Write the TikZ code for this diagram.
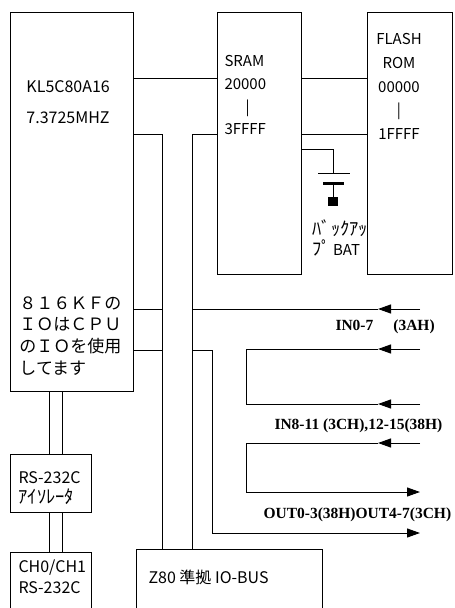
\documentclass[tikz,border=0pt]{standalone}
\usepackage{fontspec}
\setmainfont{Noto Sans CJK JP}
\newfontfamily\portfont{Liberation Serif}
\usetikzlibrary{arrows.meta,positioning}

\begin{document}
\begin{tikzpicture}[
    x=1pt, y=-1pt,
    line width=1pt,
    box/.style={draw, anchor=north west, inner sep=0pt, outer sep=0pt},
    txt/.style={anchor=west, inner sep=0pt, font=\fontsize{16}{22}\selectfont},
    kana/.style={anchor=west, inner sep=0pt, font=\fontsize{18.5}{20}\selectfont},
    portlbl/.style={anchor=west, inner sep=0pt, font=\portfont\bfseries\fontsize{15.5}{18}\selectfont},
    arr/.style={-{Triangle[length=13pt,width=9pt]}}
]
    \useasboundingbox (0,0) rectangle (455,608);

    % boxes
    \node[box, minimum width=123pt, minimum height=379pt] (cpu) at (10,12) {};
    \node[box, minimum width=84pt, minimum height=262pt] (sram) at (217,12) {};
    \node[box, minimum width=85pt, minimum height=262pt] (flash) at (367,12) {};
    \node[box, minimum width=81pt, minimum height=58pt, below right=63pt and 0pt of cpu.south west] (iso) {};
    \node[box, minimum width=81pt, minimum height=70pt, below right=40pt and 0pt of iso.south west] (ch) {};
    \node[box, minimum width=186pt, minimum height=70pt] (z80) at (136,549) {};

    % texts in the boxes
    \node[txt] (cpuname) at (26,87) {KL5C80A16};
    \node[txt] (cpuclk) at (26,118) {7.3725MHZ};
    \node[txt, anchor=north west, align=left, font=\fontsize{17}{21.7}\selectfont] (cpuio) at (19,296) {８１６ＫＦの\\ＩＯはＣＰＵ\\のＩＯを使用\\してます};
    \node[txt, anchor=north west, align=left, font=\fontsize{15}{22.7}\selectfont] (sramtxt) at (224,55) {SRAM\\20000\\\hspace{1.4em}|\\3FFFF};
    \node[txt, anchor=north, align=center, font=\fontsize{15}{23.7}\selectfont] (flashtxt) at (399,33) {FLASH\\ROM\\00000\\|\\1FFFF};
    \node[txt] (isotxt) at (18,478) {RS-232C};
    \node[kana] (isokana) at (18,497) {ｱｲｿﾚｰﾀ};
    \node[txt] (chtxt) at (18,568) {CH0/CH1};
    \node[txt] (chrs) at (18,588) {RS-232C};
    \node[txt] (z80txt) at (148,577) {Z80 準拠 IO-BUS};
    \node[kana] (battxt) at (312,228) {ﾊﾞｯｸｱｯ};
    \node[kana] (batbat) at (312,248) {ﾌﾟ\hspace{2pt}{\fontsize{15}{18}\selectfont BAT}};

    % port labels
    \node[portlbl] (in0lbl) at (335,327) {IN0-7\hspace{20pt}(3AH)};
    \node[portlbl] (in8lbl) at (274,426) {IN8-11 (3CH),12-15(38H)};
    \node[portlbl] (outlbl) at (263,515) {OUT0-3(38H)OUT4-7(3CH)};

    % memory bus
    \coordinate (rowA) at (0,78);
    \coordinate (busL) at (162,134);
    \coordinate (busR) at (192,134);
    \draw (cpu.east |- rowA) -- (sram.west |- rowA);
    \draw (sram.east |- rowA) -- (flash.west |- rowA);
    \draw (sram.east |- busR) -- (flash.west |- busR);
    \draw (cpu.east |- busL) -- (busL) -- (busL |- z80.north);
    \draw (sram.west |- busR) -- (busR) -- (busR |- z80.north);

    % backup battery
    \coordinate (batt) at (333,149);
    \coordinate (plus) at (333,173);
    \coordinate (minus) at (333,183);
    \draw (sram.east |- batt) -- (batt) -- (plus);
    \draw ([xshift=-15pt]plus) -- ([xshift=17pt]plus);
    \draw[line width=3pt] ([xshift=-10pt]minus) -- ([xshift=11pt]minus);
    \draw (minus) -- ++(0,15);
    \fill (328,197) rectangle (338,206);

    % serial
    \foreach \dx in {39,52} {
        \draw ([xshift=\dx pt]cpu.south west) -- ([xshift=\dx pt]iso.north west);
        \draw ([xshift=\dx pt]iso.south west) -- ([xshift=\dx pt]ch.north west);
    }

    % io ports
    \coordinate (in0) at (420,309);
    \coordinate (in8a) at (420,349);
    \coordinate (in8b) at (420,404);
    \coordinate (outa) at (420,443);
    \coordinate (outb) at (420,492);
    \coordinate (outc) at (420,533);
    \coordinate (bend) at (212,350);
    \coordinate (tipx) at (378,0);
    \coordinate (joinx) at (246,0);

    \draw (cpu.east |- in0) -- (busL |- in0);
    \draw (cpu.east |- bend) -- (busL |- bend);
    \draw[arr] (in0) -- (tipx |- in0);
    \draw (tipx |- in0) -- (busR |- in0);
    \draw[arr] (in8a) -- (tipx |- in8a);
    \draw[arr] (in8b) -- (tipx |- in8b);
    \draw (tipx |- in8a) -| (joinx |- in8b) -- (tipx |- in8b);
    \draw[arr] (outa) -- (tipx |- outa);
    \draw[arr] (tipx |- outa) -| (joinx |- outb) -- (outb);
    \draw[arr] (busR |- bend) -| (bend |- outc) -- (outc);
\end{tikzpicture}
\end{document}
